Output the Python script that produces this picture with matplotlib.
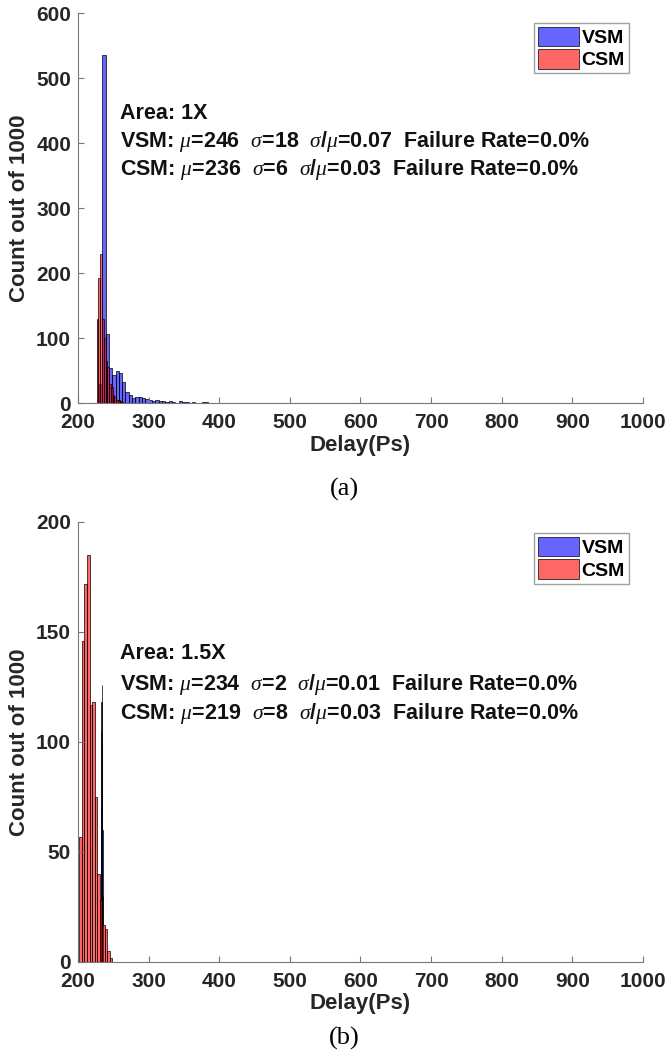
import numpy as np
import matplotlib.pyplot as plt

plt.rcParams['font.family'] = ['Liberation Sans', 'DejaVu Sans']
plt.rcParams['mathtext.fontset'] = 'custom'
plt.rcParams['mathtext.it'] = 'Liberation Serif:italic'
plt.rcParams['mathtext.rm'] = 'Liberation Sans:bold'

# --- данные ---
# (a) Area 1X
vsm_a_start, vsm_a_w = 225, 4.7
vsm_a = [0, 30, 536, 106, 54, 43, 50, 46, 33, 17, 12, 8, 10, 9, 7, 6, 5, 3, 5, 3,
         3, 2, 3, 1, 0, 3, 2, 1, 0, 1, 0, 0, 1, 1]
csm_a_start, csm_a_w = 226.5, 2.5
csm_a = [130, 192, 230, 130, 100, 65, 55, 30, 25, 12, 10, 5, 4, 3, 2]

# (b) Area 1.5X
vsm_b_start, vsm_b_w = 232, 0.4
vsm_b = [30, 70, 105, 118, 126, 100, 60, 30]
csm_b_start, csm_b_w = 202, 3.6
csm_b = [57, 146, 172, 185, 117, 118, 75, 40, 28, 17, 15, 5, 2]

text_a = ['Area: 1X',
          r'VSM: $\mu$=246  $\sigma$=18  $\sigma/\mu$=0.07  Failure Rate=0.0%',
          r'CSM: $\mu$=236  $\sigma$=6  $\sigma/\mu$=0.03  Failure Rate=0.0%']
text_b = ['Area: 1.5X',
          r'VSM: $\mu$=234  $\sigma$=2  $\sigma/\mu$=0.01  Failure Rate=0.0%',
          r'CSM: $\mu$=219  $\sigma$=8  $\sigma/\mu$=0.03  Failure Rate=0.0%']

blue = (0, 0, 1, 0.6)
red = (1, 0, 0, 0.6)

fig = plt.figure(figsize=(6.71, 10.57), dpi=100)
ax1 = fig.add_axes([0.1162, 0.6187, 0.8420, 0.3690])
ax2 = fig.add_axes([0.1162, 0.0899, 0.8420, 0.4163])


def draw(ax, start1, w1, c1, start2, w2, c2):
    x1 = start1 + w1 * np.arange(len(c1))
    x2 = start2 + w2 * np.arange(len(c2))
    ax.bar(x1, c1, width=w1, align='edge', color=blue, edgecolor='black', linewidth=0.5, label='VSM')
    ax.bar(x2, c2, width=w2, align='edge', color=red, edgecolor='black', linewidth=0.5, label='CSM')


draw(ax1, vsm_a_start, vsm_a_w, vsm_a, csm_a_start, csm_a_w, csm_a)
draw(ax2, vsm_b_start, vsm_b_w, vsm_b, csm_b_start, csm_b_w, csm_b)

ax1.set_ylim(0, 600)
ax1.set_yticks(range(0, 601, 100))
ax2.set_ylim(0, 200)
ax2.set_yticks(range(0, 201, 50))

for ax, txt, ys in [(ax1, text_a, [446, 402, 360]), (ax2, text_b, [140, 126, 113])]:
    ax.set_xlim(200, 1000)
    ax.set_xticks(range(200, 1001, 100))
    ax.spines['top'].set_visible(False)
    ax.spines['right'].set_visible(False)
    ax.spines['left'].set_color('#777777')
    ax.spines['bottom'].set_color('#777777')
    ax.tick_params(direction='in', length=4, color='#777777', labelcolor='#262626')
    ax.tick_params(axis='x', pad=7)
    ax.tick_params(axis='y', pad=5)
    for lab in ax.get_xticklabels() + ax.get_yticklabels():
        lab.set_fontweight('bold')
        lab.set_fontsize(15)
    ax.set_xlabel('Delay(Ps)', fontsize=16, fontweight='bold', color='#262626', labelpad=2)
    ax.set_ylabel('Count out of 1000', fontsize=16, fontweight='bold', color='#262626', labelpad=4)
    for t, y in zip(txt, ys):
        ax.text(260, y, t, fontsize=15.5, fontweight='bold', color='#111111', va='center')
    leg = ax.legend(loc='upper right', bbox_to_anchor=(0.975, 0.975),
                    prop={'weight': 'bold', 'size': 14}, fancybox=False, edgecolor='#888888',
                    handlelength=2.1, handleheight=1.15, handletextpad=0.15, labelspacing=0.12,
                    borderpad=0.2, borderaxespad=0)
    leg.get_frame().set_linewidth(1)

fig.text(0.513, 1 - 489 / 1057, '(a)', family='Liberation Serif', fontsize=19, ha='center', va='center')
fig.text(0.513, 1 - 1038 / 1057, '(b)', family='Liberation Serif', fontsize=19, ha='center', va='center')

fig.savefig('out.png', dpi=100)
